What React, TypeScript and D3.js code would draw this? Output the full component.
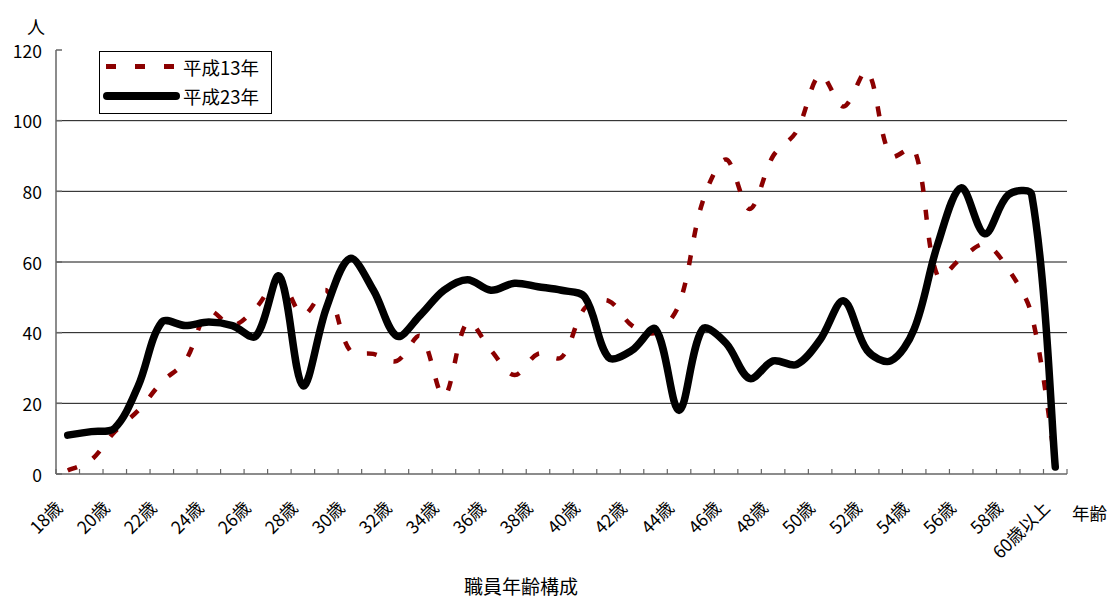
import React from "react";
import * as d3 from "d3";

// Age categories along the x axis
const categories = [
  "18歳", "19歳", "20歳", "21歳", "22歳", "23歳", "24歳", "25歳", "26歳", "27歳",
  "28歳", "29歳", "30歳", "31歳", "32歳", "33歳", "34歳", "35歳", "36歳", "37歳",
  "38歳", "39歳", "40歳", "41歳", "42歳", "43歳", "44歳", "45歳", "46歳", "47歳",
  "48歳", "49歳", "50歳", "51歳", "52歳", "53歳", "54歳", "55歳", "56歳", "57歳",
  "58歳", "59歳", "60歳以上",
];

// Headcount per age, fiscal Heisei 13
const h13 = [
  1, 4, 12, 18, 26, 32, 46, 42, 47, 55,
  45, 52, 35, 34, 32, 39, 22, 43, 35, 28,
  34, 33, 47, 49, 42, 40, 48, 77, 89, 75,
  90, 97, 113, 104, 114, 90, 92, 56, 61, 65,
  58, 45, 3,
];

// Headcount per age, fiscal Heisei 23
const h23 = [
  11, 12, 13, 25, 43, 42, 43, 42, 39, 56,
  25, 47, 61, 52, 39, 45, 52, 55, 52, 54,
  53, 52, 50, 33, 35, 41, 18, 41, 37, 27,
  32, 31, 38, 49, 35, 32, 41, 65, 81, 68,
  79, 79, 2,
];

const seriesNames = ["平成13年", "平成23年"];
const yTicks = [0, 20, 40, 60, 80, 100, 120];
const yUnit = "人";
const xUnit = "年齢";
const chartTitle = "職員年齢構成";

const FONT = "'Noto Sans CJK JP', 'Noto Sans', sans-serif";
const DASH_COLOR = "#8b0000";

type Pt = [number, number];

// Smoothed polyline: Bezier handles follow the neighbour chord, and each
// handle's length is split in proportion to the adjacent segment lengths,
// so short segments next to long ones do not overshoot.
function smoothPath(pts: Pt[]): string {
  const p = d3.path();
  const n = pts.length;
  const dist = (a: Pt, b: Pt) => Math.hypot(b[0] - a[0], b[1] - a[1]);
  const handles = pts.map((pt, i) => {
    const prev = pts[Math.max(0, i - 1)];
    const next = pts[Math.min(n - 1, i + 1)];
    const tx = next[0] - prev[0];
    const ty = next[1] - prev[1];
    const dp = i > 0 ? dist(prev, pt) : 0;
    const dn = i < n - 1 ? dist(pt, next) : 0;
    const s = dp + dn || 1;
    const kIn = i > 0 && i < n - 1 ? (dp / s) / 3 : 1 / 6;
    const kOut = i > 0 && i < n - 1 ? (dn / s) / 3 : 1 / 6;
    return {
      inX: pt[0] - tx * kIn,
      inY: pt[1] - ty * kIn,
      outX: pt[0] + tx * kOut,
      outY: pt[1] + ty * kOut,
    };
  });
  p.moveTo(pts[0][0], pts[0][1]);
  for (let i = 1; i < n; i++) {
    const a = handles[i - 1];
    const b = handles[i];
    p.bezierCurveTo(a.outX, a.outY, b.inX, b.inY, pts[i][0], pts[i][1]);
  }
  return p.toString();
}

export default function App() {
  const left = 56;
  const right = 1067;
  const top = 50;
  const bottom = 474;

  const x = d3.scaleBand<string>().domain(categories).range([left, right]).padding(0);
  const y = d3.scaleLinear().domain([0, 120]).range([bottom, top]);
  const cx = (i: number) => (x(categories[i]) as number) + x.bandwidth() / 2;

  const toPts = (vals: number[]): Pt[] => vals.map((v, i) => [cx(i), y(v)]);

  const bandEdges = d3.range(categories.length + 1).map((i) => left + i * x.bandwidth());

  return (
    <svg
      width={1113}
      height={598}
      style={{ position: "absolute", left: 0, top: 0, background: "#fff" }}
      fontFamily={FONT}
    >
      {/* horizontal gridlines */}
      {yTicks
        .filter((t) => t > 0 && t < 120)
        .map((t) => (
          <line key={"g" + t} x1={left} x2={right} y1={y(t)} y2={y(t)} stroke="#111" strokeWidth={1} />
        ))}

      {/* y axis with inward ticks */}
      <line x1={left} x2={left} y1={top} y2={bottom} stroke="#666" strokeWidth={1.5} />
      {yTicks.map((t) => (
        <g key={"yt" + t}>
          <line x1={left} x2={left + 6} y1={y(t)} y2={y(t)} stroke="#666" strokeWidth={1.5} />
          <text x={42} y={y(t)} textAnchor="end" dominantBaseline="central" fontSize={17.5} fill="#000">
            {t}
          </text>
        </g>
      ))}
      <text x={36} y={26} textAnchor="middle" dominantBaseline="central" fontSize={18} fill="#000">
        {yUnit}
      </text>

      {/* x axis with inward ticks at band edges */}
      <line x1={left} x2={right} y1={bottom} y2={bottom} stroke="#666" strokeWidth={1.5} />
      {bandEdges.map((e, i) => (
        <line key={"xt" + i} x1={e} x2={e} y1={bottom} y2={bottom - 5} stroke="#666" strokeWidth={1.2} />
      ))}
      {categories.map((c, i) =>
        i % 2 === 0 ? (
          <text
            key={"xl" + i}
            transform={`translate(${cx(i) - 4},${509}) rotate(-45)`}
            textAnchor="end"
            fontSize={17.5}
            fill="#000"
          >
            {c}
          </text>
        ) : null
      )}
      <text x={1072} y={512} dominantBaseline="central" fontSize={17.5} fill="#000">
        {xUnit}
      </text>
      <text x={521} y={585} textAnchor="middle" dominantBaseline="central" fontSize={19} fill="#000">
        {chartTitle}
      </text>

      {/* series lines */}
      <path
        d={smoothPath(toPts(h13))}
        fill="none"
        stroke={DASH_COLOR}
        strokeWidth={4.5}
        strokeDasharray="10 18"
      />
      <path
        d={smoothPath(toPts(h23))}
        fill="none"
        stroke="#000"
        strokeWidth={7.5}
        strokeLinecap="round"
        strokeLinejoin="round"
      />

      {/* legend */}
      <rect x={99.5} y={51.5} width={172} height={62} fill="#fff" stroke="#000" strokeWidth={1} />
      <line x1={106} x2={174} y1={66.5} y2={66.5} stroke={DASH_COLOR} strokeWidth={5} strokeDasharray="10 19" />
      <text x={183} y={67} dominantBaseline="central" fontSize={18.5} fill="#000">
        {seriesNames[0]}
      </text>
      <line x1={107} x2={176} y1={96} y2={96} stroke="#000" strokeWidth={8} strokeLinecap="round" />
      <text x={183} y={96} dominantBaseline="central" fontSize={18.5} fill="#000">
        {seriesNames[1]}
      </text>
    </svg>
  );
}
